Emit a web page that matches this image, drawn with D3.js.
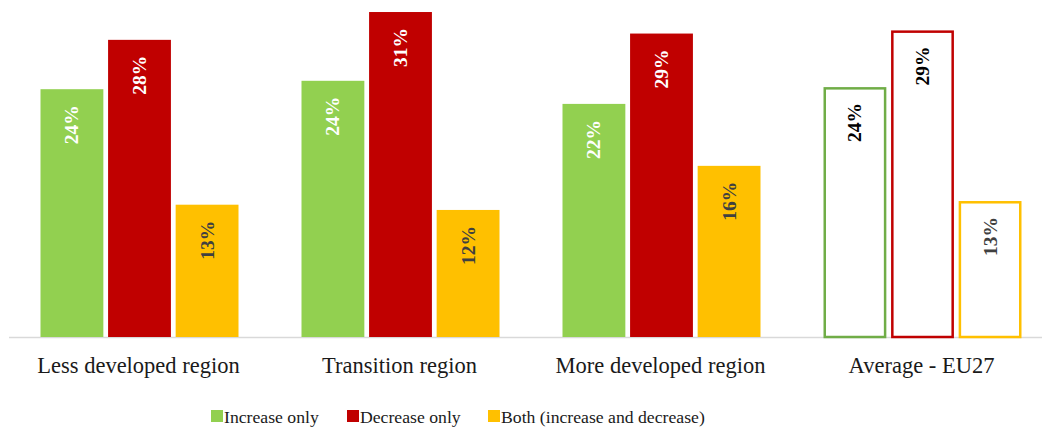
<!DOCTYPE html>
<html>
<head>
<meta charset="utf-8">
<script src="https://cdn.jsdelivr.net/npm/d3@7"></script>
<style>
  body { margin: 0; background: #fff; }
  svg { display: block; }
</style>
</head>
<body>
<svg id="chart" width="1042" height="430"></svg>
<script>
const categories = ["Less developed region", "Transition region", "More developed region", "Average - EU27"];
const seriesNames = ["Increase only", "Decrease only", "Both (increase and decrease)"];
const increaseOnly = [23.6, 24.4, 22.2, 23.8];
const decreaseOnly = [28.3, 30.95, 28.9, 29.2];
const bothValues = [12.6, 12.1, 16.3, 12.95];
const fillColors = ["#92D050", "#C00000", "#FFC000"];
const outlineColors = ["#70AD47", "#C00000", "#FFC000"];
const labelColors = ["#FFFFFF", "#FFFFFF", "#404040"];
const outlinedCategory = "Average - EU27";

const series = [increaseOnly, decreaseOnly, bothValues];
const svg = d3.select("#chart");
const baseY = 337;
const font = "'Liberation Serif', 'DejaVu Serif', serif";

const x0 = d3.scaleBand().domain(categories).range([9, 1053]).paddingInner(0).paddingOuter(0);
const groupW = 198;
const x1 = d3.scaleBand().domain(d3.range(3)).range([0, groupW]).paddingInner(0.07).paddingOuter(0);
const y = d3.scaleLinear().domain([0, 32]).range([baseY, baseY - 32 * 10.5]);

// axis line
svg.append("line").attr("x1", 9).attr("x2", 1042).attr("y1", baseY + 0.5).attr("y2", baseY + 0.5)
  .attr("stroke", "#D9D9D9").attr("stroke-width", 1.5);

const groups = svg.selectAll("g.cat").data(categories).enter().append("g")
  .attr("transform", d => `translate(${x0(d) + (x0.bandwidth() - groupW) / 2},0)`);

groups.each(function(cat, ci) {
  const g = d3.select(this);
  const outlined = cat === outlinedCategory;
  series.forEach((vals, si) => {
    const v = vals[ci];
    const bx = x1(si), bw = x1.bandwidth();
    const top = y(v);
    if (outlined) {
      g.append("rect").attr("x", bx + 1.25).attr("y", top + 1.25)
        .attr("width", bw - 2.5).attr("height", baseY - top - 1.25)
        .attr("fill", "#fff").attr("stroke", outlineColors[si]).attr("stroke-width", 2.5);
    } else {
      g.append("rect").attr("x", bx).attr("y", top)
        .attr("width", bw).attr("height", baseY - top)
        .attr("fill", fillColors[si]);
    }
    const lc = outlined ? (si === 2 ? "#404040" : "#000000") : labelColors[si];
    const cx = bx + bw / 2;
    const ty = top + 16;
    g.append("text")
      .attr("transform", `translate(${cx + 6.5},${ty}) rotate(-90)`)
      .attr("text-anchor", "end")
      .attr("font-family", font).attr("font-weight", "bold").attr("font-size", 19.5)
      .attr("fill", lc)
      .text(Math.round(v) + "%");
  });
});

// category labels
svg.selectAll("text.cat").data(categories).enter().append("text")
  .attr("x", d => x0(d) + x0.bandwidth() / 2 - 1)
  .attr("y", 373)
  .attr("text-anchor", "middle")
  .attr("font-family", font).attr("font-size", 22.5).attr("fill", "#1a1a1a")
  .text(d => d);

// legend
const legendX = [211, 347, 488];
const lg = svg.selectAll("g.leg").data(seriesNames).enter().append("g")
  .attr("transform", (d, i) => `translate(${legendX[i]},0)`);
lg.append("rect").attr("x", 0).attr("y", 410).attr("width", 12).attr("height", 12)
  .attr("fill", (d, i) => fillColors[i]);
lg.append("text").attr("x", 13).attr("y", 422.5)
  .attr("font-family", font).attr("font-size", 17.7).attr("fill", "#1a1a1a")
  .text(d => d);
</script>
</body>
</html>
